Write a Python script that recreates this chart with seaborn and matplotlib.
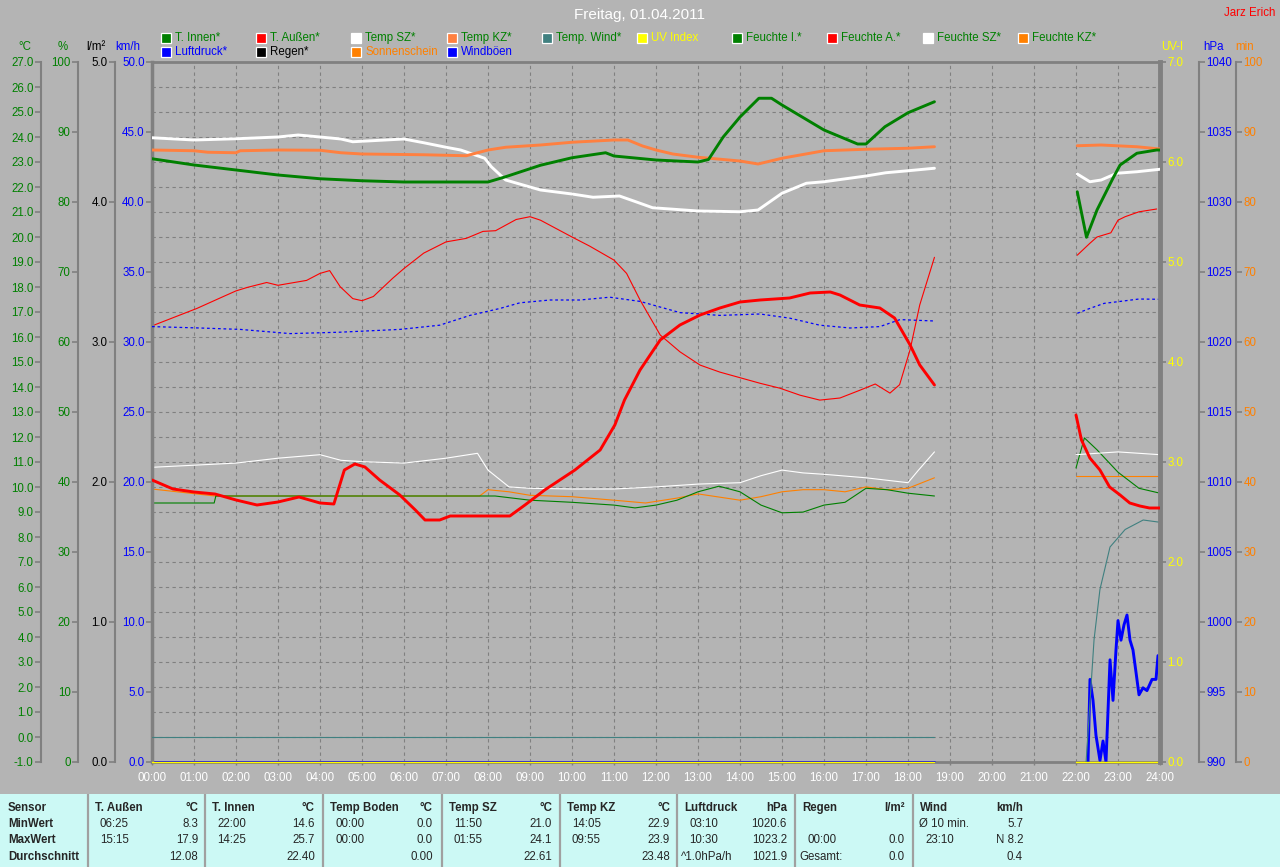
import matplotlib
matplotlib.use("Agg")
import matplotlib.pyplot as plt
from matplotlib.patches import Rectangle
import numpy as np
import seaborn as sns

# ---------------- data (hours, native units) ----------------
# T. Innen (°C)
ti_t1 = [0, 1, 2, 3, 4, 5, 6, 7, 8, 8.4, 9.25, 10, 10.8, 11, 12, 13, 13.25, 13.6, 14, 14.45, 14.75, 15, 16, 16.8, 17, 17.45, 18, 18.63]
ti_v1 = [23.13, 22.88, 22.68, 22.48, 22.33, 22.25, 22.2, 22.2, 22.2, 22.4, 22.87, 23.17, 23.37, 23.24, 23.08, 23.0, 23.1, 24.0, 24.8, 25.55, 25.55, 25.28, 24.28, 23.72, 23.72, 24.41, 24.97, 25.41]
ti_t2 = [22.03, 22.25, 22.5, 22.88, 23.05, 23.45, 23.92, 24.0]
ti_v2 = [21.81, 19.99, 21.08, 22.35, 22.88, 23.35, 23.48, 23.48]

# T. Außen (°C)
ta_t1 = [0, 0.5, 1, 1.5, 2, 2.5, 3, 3.5, 4, 4.33, 4.58, 4.83, 5.07, 5.42, 5.9, 6.27, 6.5, 6.85, 7.1, 7.8, 8.52, 8.88, 9.35, 10.07, 10.67, 11.02, 11.25, 11.62, 12.1, 12.57, 13.05, 13.52, 14.0, 14.48, 15.18, 15.67, 16.15, 16.38, 16.85, 17.33, 17.68, 18.05, 18.28, 18.63]
ta_v1 = [10.28, 9.92, 9.8, 9.72, 9.48, 9.28, 9.4, 9.6, 9.36, 9.32, 10.68, 10.92, 10.8, 10.28, 9.68, 9.08, 8.68, 8.68, 8.84, 8.84, 8.84, 9.28, 9.88, 10.68, 11.48, 12.48, 13.48, 14.68, 15.88, 16.48, 16.88, 17.16, 17.4, 17.48, 17.56, 17.76, 17.8, 17.68, 17.28, 17.16, 16.76, 15.68, 14.88, 14.08]
ta_t2 = [22.0, 22.13, 22.33, 22.57, 22.8, 23.05, 23.28, 23.52, 23.75, 24.0]
ta_v2 = [12.88, 11.88, 11.16, 10.68, 10.0, 9.68, 9.36, 9.24, 9.16, 9.16]

# Temp SZ (°C)
sz_t1 = [0, 1, 2, 3, 3.48, 4, 4.5, 4.78, 6, 6.47, 7, 7.35, 7.92, 8.08, 8.42, 9.25, 10, 10.5, 11.13, 11.52, 11.92, 13, 14, 14.43, 15, 15.58, 16, 17, 17.47, 18, 18.63]
sz_v1 = [23.97, 23.88, 23.93, 24.0, 24.08, 24.0, 23.92, 23.81, 23.92, 23.77, 23.59, 23.48, 23.15, 22.81, 22.28, 21.88, 21.72, 21.59, 21.64, 21.41, 21.17, 21.04, 21.01, 21.08, 21.75, 22.15, 22.21, 22.44, 22.57, 22.65, 22.75]
sz_t2 = [22.03, 22.33, 22.6, 22.97, 23.45, 24.0]
sz_v2 = [22.52, 22.21, 22.28, 22.55, 22.61, 22.71]

# Temp KZ (°C)
kz_t1 = [0, 1, 1.33, 2, 2.1, 3, 4, 4.5, 5, 6.47, 7.48, 8, 8.42, 9.25, 10, 11, 11.33, 11.68, 12, 12.4, 13, 14, 14.43, 15, 16, 17, 18, 18.63]
kz_v1 = [23.48, 23.45, 23.39, 23.37, 23.45, 23.48, 23.47, 23.37, 23.32, 23.29, 23.25, 23.48, 23.59, 23.68, 23.79, 23.88, 23.88, 23.64, 23.48, 23.32, 23.19, 23.04, 22.92, 23.15, 23.45, 23.51, 23.55, 23.61]
kz_t2 = [22.03, 22.6, 23.45, 24.0]
kz_v2 = [23.65, 23.68, 23.61, 23.52]

# Temp. Wind (°C)
tw_t1 = [0, 18.63]
tw_v1 = [0.0, 0.0]
tw_t2 = [22.24, 22.43, 22.57, 22.81, 23.17, 23.6, 23.95]
tw_v2 = [-1.0, 3.9, 5.9, 7.6, 8.3, 8.68, 8.6]

# Feuchte I. (%)
fi_t1 = [0, 1.48, 1.52, 8.17, 9, 10, 11, 11.5, 12, 12.5, 13, 13.5, 14, 14.5, 15, 15.5, 16, 16.5, 17, 17.5, 18, 18.63]
fi_v1 = [37.0, 37.0, 38.0, 38.0, 37.4, 37.1, 36.7, 36.3, 36.7, 37.4, 38.6, 39.4, 38.6, 36.7, 35.6, 35.7, 36.7, 37.1, 39.1, 38.9, 38.4, 38.0]
fi_t2 = [22.0, 22.2, 22.5, 23.0, 23.5, 24.0]
fi_v2 = [42.0, 46.3, 44.6, 41.4, 39.1, 38.4]

# Feuchte A. (%)
fa_t1 = [0, 1.07, 1.7, 2, 2.27, 2.73, 3, 3.68, 4, 4.23, 4.48, 4.78, 5, 5.27, 5.73, 6, 6.47, 7, 7.48, 7.88, 8.18, 8.67, 9.0, 9.25, 10, 10.42, 11, 11.3, 11.62, 12.1, 12.57, 13.05, 13.52, 14.0, 14.48, 14.95, 15.43, 15.9, 16.38, 16.85, 17.22, 17.57, 17.8, 18.05, 18.28, 18.63]
fa_v1 = [62.3, 64.8, 66.5, 67.3, 67.8, 68.5, 68.1, 68.8, 69.8, 70.2, 67.9, 66.2, 65.9, 66.5, 69.1, 70.5, 72.7, 74.3, 74.8, 75.8, 75.9, 77.5, 77.9, 77.4, 75.0, 73.7, 71.7, 69.8, 66.0, 61.0, 58.6, 56.7, 55.7, 54.9, 54.1, 53.4, 52.4, 51.7, 52.0, 53.1, 54.0, 52.7, 53.9, 58.9, 65.3, 72.1]
fa_t2 = [22.03, 22.33, 22.5, 22.83, 23.0, 23.17, 23.5, 23.92]
fa_v2 = [72.4, 74.1, 75.0, 75.6, 77.4, 77.9, 78.6, 79.0]

# Feuchte SZ (%)
fs_t1 = [0, 1, 2, 3, 4, 4.5, 5, 6, 7, 7.75, 8.0, 8.5, 9, 10, 11, 12, 13, 14, 14.5, 15, 15.5, 16, 17, 18, 18.25, 18.63]
fs_v1 = [42.1, 42.4, 42.7, 43.4, 43.9, 43.1, 42.9, 42.7, 43.4, 44.1, 41.7, 39.3, 39.1, 39.0, 39.0, 39.3, 39.7, 39.9, 40.9, 41.7, 41.3, 41.1, 40.6, 39.9, 41.7, 44.3]
fs_t2 = [22.0, 22.5, 23.0, 24.0]
fs_v2 = [43.9, 44.1, 44.3, 43.9]

# Feuchte KZ (%)
fk_t1 = [0, 1.5, 7.8, 8.0, 8.5, 9, 10, 11, 11.75, 12.5, 13, 14, 14.5, 15, 15.5, 16, 16.5, 17, 17.5, 18, 18.63]
fk_v1 = [39.0, 38.0, 38.0, 38.9, 38.6, 38.1, 37.9, 37.4, 37.0, 37.7, 38.3, 37.4, 37.9, 38.6, 38.9, 38.9, 38.6, 39.3, 38.9, 39.1, 40.6]
fk_t2 = [22.0, 24.0]
fk_v2 = [40.9, 40.9]

# Luftdruck (hPa)
lp_t1 = [0, 1.14, 2.1, 3.29, 4.48, 5.9, 6.85, 7.57, 8.29, 8.76, 9.48, 10.19, 10.9, 11.62, 12.57, 13.52, 14.48, 15.19, 15.9, 16.62, 17.33, 17.81, 18.63]
lp_v1 = [1021.1, 1021.0, 1020.9, 1020.6, 1020.7, 1020.9, 1021.2, 1021.9, 1022.4, 1022.8, 1023.0, 1023.0, 1023.2, 1022.9, 1022.1, 1021.9, 1022.0, 1021.7, 1021.2, 1021.0, 1021.1, 1021.6, 1021.5]
lp_t2 = [22.03, 22.33, 22.67, 23.0, 23.5, 24.0]
lp_v2 = [1022.05, 1022.4, 1022.76, 1022.88, 1023.07, 1023.05]

# Windböen (km/h)
wb_t1 = [0, 18.63]
wb_v1 = [0.0, 0.0]
wb_t2 = [22.286, 22.333, 22.405, 22.476, 22.571, 22.643, 22.714, 22.81, 22.881, 22.952, 23.0, 23.071, 23.143, 23.214, 23.286, 23.357, 23.429, 23.5, 23.595, 23.69, 23.81, 23.905, 23.952]
wb_v2 = [0.0, 5.9, 4.4, 1.9, 0.1, 1.5, 0.0, 7.3, 4.4, 8.0, 10.1, 8.7, 9.8, 10.5, 8.7, 8.0, 6.4, 4.8, 5.3, 5.1, 5.9, 5.9, 7.6]

# Regen (l/m²), Sonnenschein (min), UV Index
rg_t1, rg_v1 = [0, 18.63], [0.0, 0.0]
rg_t2, rg_v2 = [22.0, 24.0], [0.0, 0.0]
so_t1, so_v1 = [0, 18.63], [0.0, 0.0]
so_t2, so_v2 = [22.0, 24.0], [0.0, 0.0]
uv_t1, uv_v1 = [0, 18.63], [0.0, 0.0]
uv_t2, uv_v2 = [22.0, 24.0], [0.0, 0.0]

hours = list(range(0, 25))
hour_labels = [f"{h:02d}:00" for h in hours]

# legend
leg1_names = ["T. Innen*", "T. Außen*", "Temp SZ*", "Temp KZ*", "Temp. Wind*", "UV Index",
              "Feuchte I.*", "Feuchte A.*", "Feuchte SZ*", "Feuchte KZ*"]
leg2_names = ["Luftdruck*", "Regen*", "Sonnenschein", "Windböen"]

# stats table
tab_headers = ["T. Außen", "T. Innen", "Temp Boden", "Temp SZ", "Temp KZ", "Luftdruck", "Regen", "Wind"]
tab_units = ["°C", "°C", "°C", "°C", "°C", "hPa", "l/m²", "km/h"]
min_time = ["06:25", "22:00", "00:00", "11:50", "14:05", "03:10", "", "Ø 10 min."]
min_val = ["8.3", "14.6", "0.0", "21.0", "22.9", "1020.6", "", "5.7"]
max_time = ["15:15", "14:25", "00:00", "01:55", "09:55", "10:30", "00:00", "23:10"]
max_val = ["17.9", "25.7", "0.0", "24.1", "23.9", "1023.2", "0.0", "N 8.2"]
avg_label = ["", "", "", "", "", "^1.0hPa/h", "Gesamt:", ""]
avg_val = ["12.08", "22.40", "0.00", "22.61", "23.48", "1021.9", "0.0", "0.4"]
row_names = ["MinWert", "MaxWert", "Durchschnitt"]

# ---------------- style ----------------
sns.set_theme(style="white")
plt.rcParams['font.family'] = ['Liberation Sans', 'DejaVu Sans']

W, H = 1280, 867
BG = '#b4b4b4'
GRID = '#808080'
GREEN = '#008000'
RED = '#ff0000'
WHITE = '#ffffff'
CORAL = '#ff8040'
TEAL = '#408080'
YELLOW = '#ffff00'
ORANGE = '#ff8000'
BLUE = '#0000ff'
BLACK = '#000000'
THICK = 2.1
THIN = 0.8
FS = 8.3

leg1_colors = [GREEN, RED, WHITE, CORAL, TEAL, YELLOW, GREEN, RED, WHITE, ORANGE]
leg1_text = [GREEN, GREEN, GREEN, GREEN, GREEN, YELLOW, GREEN, GREEN, GREEN, GREEN]
leg2_colors = [BLUE, BLACK, ORANGE, BLUE]
leg2_text = [BLUE, BLACK, ORANGE, BLUE]


def fx(x):
    return x / W


def fy(y):
    return 1 - y / H


fig = plt.figure(figsize=(W / 100, H / 100), dpi=100, facecolor=BG)
ax = fig.add_axes([fx(152), fy(762), fx(1160) - fx(152), fy(62) - fy(762)])
ax.set_facecolor(BG)
ax.set_zorder(0)

# host axis (°C) with grid
ax.set_xlim(0, 24)
ax.set_ylim(-1, 27)
ax.set_xticks(hours)
ax.set_xticklabels(hour_labels)
ax.set_yticks(np.arange(-1, 28, 1))
ax.set_yticklabels([f"{v:.1f}" for v in np.arange(-1, 28, 1)])
ax.grid(True, color=GRID, linestyle=(0, (3, 3)), linewidth=0.8)
ax.set_axisbelow(True)
for s in ax.spines.values():
    s.set_color(GRID)
ax.spines['right'].set_visible(False)
ax.spines['top'].set_linewidth(2)
ax.spines['bottom'].set_linewidth(2)
ax.spines['left'].set_position(('axes', (41 - 152) / 1008))
ax.spines['left'].set_linewidth(1.5)
ax.tick_params(axis='y', direction='out', length=4.3, width=1.2, color=GRID,
               labelcolor=GREEN, labelsize=FS, pad=1, left=True)
ax.tick_params(axis='x', direction='out', length=2.5, width=1, color=GRID,
               labelcolor=WHITE, labelsize=FS, pad=4.5, bottom=True)


def side_axis(side, pos, lim, ticks, labels, color, lw=1.5):
    a = ax.twinx()
    a.set_ylim(*lim)
    a.set_yticks(ticks)
    a.set_yticklabels(labels)
    for s in a.spines.values():
        s.set_visible(False)
    sp = a.spines[side]
    sp.set_visible(True)
    sp.set_position(('axes', pos))
    sp.set_color(GRID)
    sp.set_linewidth(lw)
    a.yaxis.set_ticks_position(side)
    a.yaxis.set_label_position(side)
    a.tick_params(axis='y', direction='out', length=4.3, width=1.2, color=GRID,
                  labelcolor=color, labelsize=FS, pad=1)
    a.grid(False)
    return a


hum = side_axis('left', (78 - 152) / 1008, (0, 100), np.arange(0, 101, 10),
                [f"{v:d}" for v in range(0, 101, 10)], GREEN)
rain = side_axis('left', (115 - 152) / 1008, (0, 5), np.arange(0, 6, 1),
                 [f"{v:.1f}" for v in np.arange(0, 6, 1)], BLACK)
wind = side_axis('left', 0.0, (0, 50), np.arange(0, 51, 5),
                 [f"{v:.1f}" for v in np.arange(0, 51, 5)], BLUE, lw=2.5)
hpa = side_axis('right', (1199 - 152) / 1008, (990, 1040), np.arange(990, 1041, 5),
                [f"{v:d}" for v in range(990, 1041, 5)], BLUE)
mins = side_axis('right', (1236 - 152) / 1008, (0, 100), np.arange(0, 101, 10),
                 [f"{v:d}" for v in range(0, 101, 10)], ORANGE)
uv = side_axis('right', 1.0, (0, 7), np.arange(0, 8, 1),
               [f"{v:.1f}" for v in np.arange(0, 8, 1)], YELLOW, lw=3.5)
temp = ax.twinx()
temp.set_ylim(-1, 27)
temp.set_yticks([])
for s in temp.spines.values():
    s.set_visible(False)


def draw(a, segs, color, lw, dashed=False, clip=True):
    for t, v in segs:
        sns.lineplot(x=t, y=v, ax=a, color=color, linewidth=lw, estimator=None,
                     sort=False, clip_on=clip)
        ln = a.lines[-1]
        if dashed:
            ln.set_linestyle((0, (2.2, 2.2)))


# humidity (thin)
draw(hum, [(fk_t1, fk_v1), (fk_t2, fk_v2)], ORANGE, THIN)
draw(hum, [(fi_t1, fi_v1), (fi_t2, fi_v2)], GREEN, THIN)
draw(hum, [(fs_t1, fs_v1), (fs_t2, fs_v2)], WHITE, THIN)
draw(hum, [(fa_t1, fa_v1), (fa_t2, fa_v2)], RED, THIN)
# pressure
draw(hpa, [(lp_t1, lp_v1), (lp_t2, lp_v2)], BLUE, 0.9, dashed=True)
# zero lines at bottom
draw(rain, [(rg_t1, rg_v1), (rg_t2, rg_v2)], BLACK, THIN, clip=False)
draw(mins, [(so_t1, so_v1), (so_t2, so_v2)], ORANGE, THIN, clip=False)
# temperatures
draw(temp, [(tw_t1, tw_v1), (tw_t2, tw_v2)], TEAL, THIN)
draw(temp, [(sz_t1, sz_v1), (sz_t2, sz_v2)], WHITE, THICK)
draw(temp, [(kz_t1, kz_v1), (kz_t2, kz_v2)], CORAL, THICK)
draw(temp, [(ti_t1, ti_v1), (ti_t2, ti_v2)], GREEN, THICK)
draw(temp, [(ta_t1, ta_v1), (ta_t2, ta_v2)], RED, THICK)
# wind gusts and UV
draw(wind, [(wb_t1, wb_v1), (wb_t2, wb_v2)], BLUE, THICK)
draw(uv, [(uv_t1, uv_v1), (uv_t2, uv_v2)], YELLOW, 1.0, clip=False)

for a in [ax, hum, rain, wind, hpa, mins, uv, temp]:
    a.set_xlim(0, 24)
    a.set_xlabel('')
    a.set_ylabel('')
ax.set_ylim(-1, 27)
temp.set_ylim(-1, 27)
hum.set_ylim(0, 100)
rain.set_ylim(0, 5)
wind.set_ylim(0, 50)
hpa.set_ylim(990, 1040)
mins.set_ylim(0, 100)
uv.set_ylim(0, 7)

# ---------------- header texts ----------------
fig.text(fx(640), fy(15), "Freitag, 01.04.2011", color=WHITE, fontsize=11,
         ha='center', va='center')
fig.text(fx(1250), fy(13), "Jarz Erich", color=RED, fontsize=FS, ha='center', va='center')

for lbl, x, c in [("°C", 25, GREEN), ("%", 63, GREEN), ("l/m²", 96, BLACK),
                  ("km/h", 128, BLUE), ("UV-I", 1172, YELLOW), ("hPa", 1213, BLUE),
                  ("min", 1245, ORANGE)]:
    fig.text(fx(x), fy(47), lbl, color=c, fontsize=FS, ha='center', va='center')

for rowy, names, mcols, tcols in [(38, leg1_names, leg1_colors, leg1_text),
                                  (52, leg2_names, leg2_colors, leg2_text)]:
    for i, (n, mc, tc) in enumerate(zip(names, mcols, tcols)):
        x0 = 161 + 95.2 * i
        fig.add_artist(Rectangle((fx(x0), fy(rowy + 5)), 10 / W, 10 / H,
                                 transform=fig.transFigure, facecolor=mc,
                                 edgecolor=WHITE, linewidth=0.9))
        fig.text(fx(x0 + 14), fy(rowy), n, color=tc, fontsize=FS, ha='left', va='center')

# ---------------- statistics table ----------------
tab = fig.add_axes([0, 0, 1, 73 / H])
tab.set_facecolor('#ccf9f5')
tab.set_xlim(0, W)
tab.set_ylim(73, 0)
tab.set_xticks([])
tab.set_yticks([])
for s in tab.spines.values():
    s.set_visible(False)

block_left = [88, 205, 323, 442, 560, 677, 795, 913]
for xl in block_left:
    tab.axvline(xl, color='#a0a0a0', linewidth=1.6)

ROWS = [14, 30, 46, 63]
tab.text(8, ROWS[0], "Sensor", fontsize=FS, fontweight='bold', va='center', ha='left')
for r, n in zip(ROWS[1:], row_names):
    tab.text(8, r, n, fontsize=FS, fontweight='bold', va='center', ha='left')

for i, xl in enumerate(block_left):
    xr = xl + 110
    tab.text(xl + 7, ROWS[0], tab_headers[i], fontsize=FS, fontweight='bold', va='center')
    tab.text(xr, ROWS[0], tab_units[i], fontsize=FS, fontweight='bold', va='center', ha='right')
    tmin_x = xl + 6 if min_time[i].startswith("Ø") else xl + 12
    tab.text(tmin_x, ROWS[1], min_time[i], fontsize=FS, va='center')
    tab.text(xr, ROWS[1], min_val[i], fontsize=FS, va='center', ha='right')
    tab.text(xl + 12, ROWS[2], max_time[i], fontsize=FS, va='center')
    tab.text(xr, ROWS[2], max_val[i], fontsize=FS, va='center', ha='right')
    tab.text(xl + 4, ROWS[3], avg_label[i], fontsize=FS, va='center')
    tab.text(xr, ROWS[3], avg_val[i], fontsize=FS, va='center', ha='right')

fig.savefig("out.png", dpi=100, facecolor=BG)
